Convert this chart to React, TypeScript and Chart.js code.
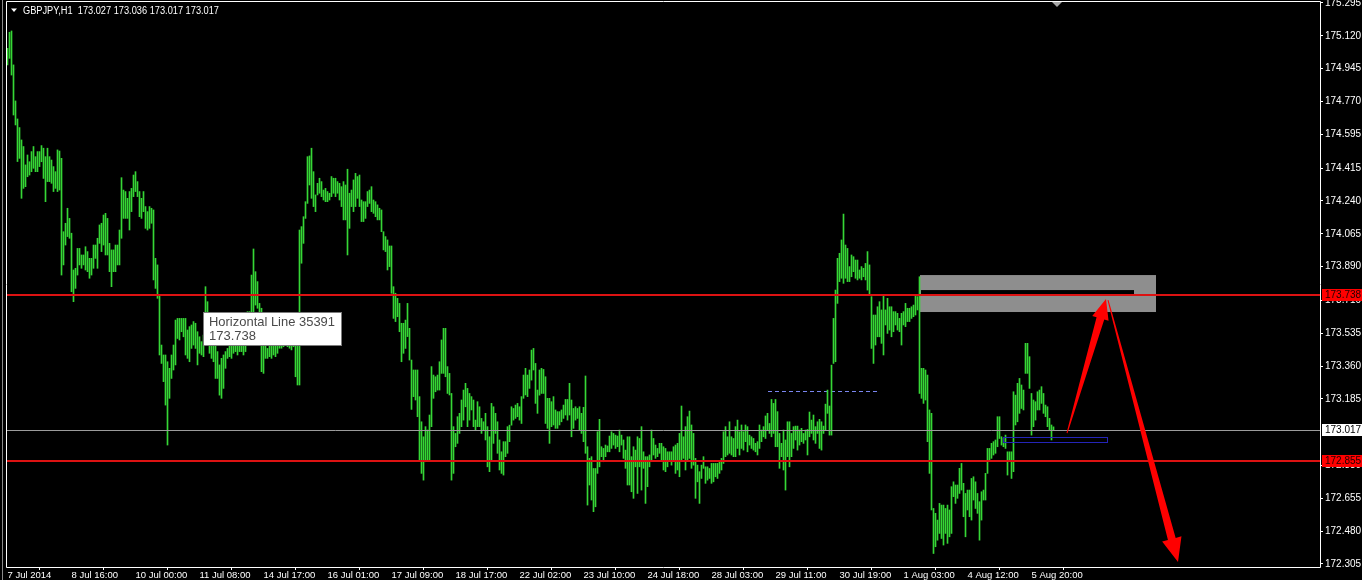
import React, { useEffect, useRef } from 'react';
import { Chart, registerables } from 'chart.js';

Chart.register(...registerables);

// ---------- text ----------
const headerText = 'GBPJPY,H1  173.027 173.036 173.017 173.017';
const timeLabels = [
  '7 Jul 2014', '8 Jul 16:00', '10 Jul 00:00', '11 Jul 08:00', '14 Jul 17:00', '16 Jul 01:00',
  '17 Jul 09:00', '18 Jul 17:00', '22 Jul 02:00', '23 Jul 10:00', '24 Jul 18:00', '28 Jul 03:00',
  '29 Jul 11:00', '30 Jul 19:00', '1 Aug 03:00', '4 Aug 12:00', '5 Aug 20:00',
];
const barsPerTimeLabel = 32;
const priceTickValues = [
  175.295, 175.12, 174.945, 174.77, 174.595, 174.415, 174.24, 174.065, 173.89, 173.71,
  173.535, 173.36, 173.185, 172.83, 172.655, 172.48, 172.305,
];

// ---------- H1 bars (high / low) ----------
const highs = [
  175.054,175.139,175.146,174.965,174.773,174.677,174.631,174.565,174.530,174.432,
  174.485,174.449,174.503,174.530,174.476,174.503,174.503,174.535,174.521,174.476,
  174.521,174.476,174.458,174.423,174.396,174.512,174.506,174.467,174.076,174.121,
  174.201,174.147,174.068,173.872,173.881,173.987,173.987,173.952,173.952,173.996,
  173.970,173.934,173.934,174.005,174.005,174.041,174.112,174.121,174.165,174.174,
  174.147,174.014,173.979,173.979,174.005,174.005,174.085,174.364,174.298,174.290,
  174.254,174.290,174.307,174.378,174.396,174.343,174.290,174.254,174.290,174.210,
  174.183,174.210,174.201,174.192,173.934,173.899,173.739,173.472,173.419,173.419,
  173.383,173.348,173.419,173.472,173.605,173.614,173.614,173.614,173.614,173.614,
  173.552,173.570,173.579,173.597,173.588,173.543,173.516,173.490,173.525,173.783,
  173.703,173.632,173.579,173.508,173.472,173.437,173.366,173.401,173.419,173.437,
  173.454,173.472,173.472,173.481,173.490,173.472,173.472,173.472,173.472,173.490,
  173.650,173.650,173.845,173.984,173.863,173.810,173.694,173.668,173.472,173.472,
  173.454,173.595,173.605,173.580,173.560,173.570,173.600,173.590,173.610,173.620,
  173.600,173.580,173.570,173.600,173.620,173.600,174.085,174.103,174.156,174.236,
  174.476,174.480,174.521,174.396,174.272,174.334,174.361,174.343,174.298,174.307,
  174.290,174.281,174.370,174.361,174.361,174.343,174.334,174.316,174.343,174.325,
  174.409,174.281,174.298,174.352,174.387,174.370,174.378,174.245,174.236,174.236,
  174.290,174.298,174.316,174.245,174.236,174.219,174.201,174.192,174.076,174.050,
  174.032,174.000,174.000,173.783,173.748,173.721,173.694,173.588,173.588,173.605,
  173.694,173.561,173.392,173.339,173.339,173.339,173.197,173.063,172.983,173.037,
  173.019,173.099,173.357,173.312,173.303,173.312,173.383,173.499,173.561,173.561,
  173.357,173.321,173.214,173.037,173.001,173.090,173.108,173.179,173.232,173.268,
  173.241,173.214,173.197,173.179,173.072,173.170,173.143,173.081,173.063,173.108,
  173.037,172.983,173.161,173.143,173.108,173.063,172.966,172.903,172.957,172.957,
  173.037,173.045,173.143,173.134,173.152,173.161,173.143,173.197,173.312,173.348,
  173.312,173.339,173.445,173.454,173.374,173.232,173.339,173.348,173.342,173.303,
  173.188,173.188,173.170,173.197,173.126,173.117,173.117,173.126,173.152,173.182,
  173.182,173.268,173.179,173.134,173.143,173.134,173.143,173.108,173.140,173.307,
  172.930,172.868,172.877,172.814,172.814,173.010,173.076,172.930,172.921,172.939,
  172.934,172.987,173.010,173.001,172.992,172.987,173.019,172.992,172.966,172.912,
  172.983,172.983,172.877,172.930,172.912,172.983,172.974,173.037,172.903,172.877,
  172.877,172.886,173.019,172.974,172.939,172.921,172.948,172.948,172.930,172.921,
  172.903,172.903,172.903,172.930,172.939,172.948,173.001,173.147,172.983,173.037,
  173.090,173.120,173.046,173.001,172.868,172.832,172.797,172.832,172.877,172.823,
  172.823,172.814,172.841,172.841,172.841,172.841,172.850,172.868,173.010,173.037,
  172.983,173.063,172.983,172.974,173.037,173.072,173.010,173.046,173.010,173.046,
  173.037,172.992,172.983,172.974,172.948,172.957,173.046,173.019,173.037,173.094,
  173.108,173.054,173.182,173.161,173.182,173.117,173.001,172.948,173.019,172.966,
  173.063,173.063,173.001,173.037,173.040,173.040,173.019,173.028,173.001,173.019,
  173.022,173.115,173.072,173.099,173.037,173.063,173.076,173.063,173.040,173.157,
  173.232,173.147,173.365,173.614,173.765,173.934,173.961,174.032,174.170,174.005,
  173.987,173.890,173.952,173.943,173.925,173.925,173.872,173.890,173.881,173.907,
  173.970,173.899,173.730,173.632,173.632,173.676,173.703,173.659,173.739,173.659,
  173.721,173.676,173.676,173.650,173.650,173.641,173.614,173.641,173.650,173.694,
  173.668,173.668,173.676,173.685,173.739,173.730,173.836,173.348,173.348,173.339,
  173.312,173.126,173.108,172.601,172.575,172.539,172.628,172.619,172.619,172.601,
  172.619,172.593,172.717,172.743,172.726,172.726,172.815,172.841,172.735,172.681,
  172.699,172.699,172.761,172.770,172.743,172.681,172.637,172.690,172.699,172.788,
  172.921,172.921,172.948,172.957,172.966,173.090,173.090,172.983,172.974,172.992,
  172.903,172.903,172.903,173.223,173.205,173.268,173.294,173.259,173.232,173.481,
  173.481,173.410,173.214,173.179,173.170,173.223,173.232,173.250,173.214,173.152,
  173.143,173.081,173.046,173.036,
];
const lows = [
  174.965,175.000,174.911,174.698,174.645,174.450,174.467,174.254,174.307,174.316,
  174.369,174.378,174.396,174.414,174.396,174.396,174.423,174.449,174.360,174.236,
  174.343,174.343,174.334,174.290,174.307,174.290,174.298,173.845,173.899,174.005,
  174.050,174.041,173.756,173.703,173.774,173.845,173.899,173.881,173.899,173.872,
  173.863,173.828,173.845,173.881,173.934,173.881,174.014,173.970,174.005,173.952,
  173.952,173.863,173.783,173.863,173.863,173.899,173.899,174.041,174.147,174.147,
  174.147,174.085,174.183,174.263,174.290,174.263,174.156,174.147,174.183,174.094,
  174.085,174.094,174.121,173.819,173.774,173.721,173.419,173.374,173.277,173.152,
  172.939,173.188,173.294,173.339,173.366,173.507,173.499,173.543,173.516,173.419,
  173.401,173.383,173.454,173.472,173.454,173.366,173.428,173.419,173.410,173.507,
  173.561,173.428,173.401,173.383,173.294,173.294,173.205,173.188,173.241,173.348,
  173.401,173.410,173.401,173.428,173.437,173.419,173.437,173.437,173.419,173.437,
  173.472,173.507,173.614,173.650,173.685,173.668,173.632,173.330,173.321,173.401,
  173.401,173.410,173.401,173.419,173.410,173.428,173.455,173.455,173.463,173.472,
  173.463,173.455,173.446,173.463,173.303,173.259,173.259,173.908,174.014,174.147,
  174.227,174.325,174.254,174.210,174.183,174.272,174.281,174.263,174.245,174.236,
  174.236,174.245,174.263,174.281,174.263,174.281,174.245,174.210,174.139,174.139,
  173.952,174.094,174.210,174.183,174.210,174.254,174.210,174.130,174.130,174.147,
  174.210,174.227,174.183,174.174,174.156,174.139,174.139,174.076,173.979,173.970,
  173.872,173.890,173.748,173.614,173.597,173.623,173.543,173.383,173.428,173.454,
  173.517,173.392,173.129,173.197,173.179,173.090,172.859,172.788,172.752,172.850,
  172.859,172.859,173.037,173.188,173.223,173.232,173.232,173.321,173.321,173.303,
  173.214,173.206,172.752,172.788,172.930,172.948,173.001,173.037,173.072,173.143,
  173.037,173.072,173.126,173.037,173.019,173.037,173.037,173.001,173.019,172.966,
  172.823,172.797,172.859,172.948,173.001,172.895,172.806,172.788,172.779,172.877,
  172.895,172.957,173.045,173.072,173.081,173.090,173.072,173.054,173.188,173.206,
  173.197,173.241,173.285,173.339,173.161,173.108,173.205,173.214,173.214,173.054,
  173.028,172.948,173.037,173.046,173.028,173.028,173.046,173.063,173.081,173.099,
  173.072,173.099,172.983,173.028,173.072,173.081,173.019,173.001,172.957,172.895,
  172.619,172.726,172.646,172.584,172.610,172.788,172.823,172.877,172.850,172.877,
  172.903,172.903,172.921,172.939,172.921,172.930,172.903,172.939,172.868,172.815,
  172.726,172.726,172.690,172.655,172.823,172.681,172.823,172.699,172.815,172.628,
  172.717,172.823,172.859,172.886,172.868,172.877,172.895,172.859,172.806,172.797,
  172.823,172.859,172.832,172.859,172.788,172.806,172.770,172.859,172.868,172.806,
  172.859,172.868,172.815,172.832,172.655,172.743,172.628,172.761,172.815,172.735,
  172.752,172.761,172.735,172.743,172.770,172.761,172.788,172.806,172.841,172.877,
  172.886,172.895,172.886,172.877,172.877,172.921,172.886,172.921,172.912,172.957,
  172.903,172.939,172.921,172.912,172.903,172.886,172.921,172.957,172.983,172.974,
  173.019,173.001,172.983,173.001,172.930,172.930,172.815,172.877,172.806,172.699,
  172.877,172.823,172.877,172.921,172.966,172.912,172.939,172.957,172.948,172.966,
  172.886,172.983,173.001,172.966,172.948,173.001,172.921,172.912,173.001,173.019,
  173.108,172.992,172.992,173.374,173.383,173.694,173.810,173.828,173.801,173.828,
  173.810,173.810,173.836,173.863,173.828,173.819,173.828,173.819,173.836,173.819,
  173.765,173.739,173.454,173.374,173.472,173.516,173.516,173.481,173.419,173.579,
  173.534,173.552,173.516,173.543,173.579,173.552,173.543,173.472,173.579,173.570,
  173.597,173.597,173.614,173.623,173.632,173.659,173.214,173.188,173.161,173.179,
  172.957,172.788,172.593,172.361,172.397,172.432,172.468,172.441,172.406,172.468,
  172.415,172.450,172.468,172.664,172.628,172.655,172.681,172.699,172.557,172.450,
  172.593,172.557,172.539,172.646,172.601,172.575,172.432,172.539,172.646,172.646,
  172.788,172.859,172.868,172.886,172.895,172.930,172.974,172.939,172.930,172.921,
  172.779,172.859,172.761,172.797,173.046,173.063,173.108,173.134,173.126,173.321,
  173.321,173.241,172.992,173.037,173.072,173.126,173.126,173.161,173.108,173.090,
  173.037,173.019,172.966,173.017,
];

// ---------- objects (data coordinates: bar index / price) ----------
const resistanceLevel = 173.738;
const supportLevel = 172.855;
const lastPrice = 173.017;
const zoneBox = { fromBar: 456.25, toBar: 574.25, top: 173.845, bottom: 173.648 };
const zoneInner = { fromBar: 456.75, toBar: 563.25, top: 173.765, bottom: 173.738 };
const smallBox = { fromBar: 497.75, toBar: 549.75, top: 172.984, bottom: 172.957 };
const dashedLevel = { fromBar: 380.25, toBar: 435.25, price: 173.227 };
const arrowUp = { fromBar: 529.75, fromPrice: 173.003, toBar: 549.25, toPrice: 173.717 };
const arrowDown = { fromBar: 550.25, fromPrice: 173.712, toBar: 585.25, toPrice: 172.315 };
const lineTip = { bar: 97.75, title: 'Horizontal Line 35391', value: '173.738' };

// ---------- scale ranges ----------
const xMin = -0.25;
const xMax = 656.25;
const yMin = 172.289;
const yMax = 175.3003;

const FONT = "'Liberation Sans', Arial, sans-serif";

function drawArrow(ctx: CanvasRenderingContext2D, x0: number, y0: number, x1: number, y1: number,
  tailW: number, shaftW: number, headW: number, headLen: number, color: string) {
  const dx = x1 - x0, dy = y1 - y0;
  const L = Math.hypot(dx, dy);
  const ux = dx / L, uy = dy / L;
  const nx = -uy, ny = ux;
  const bx = x1 - ux * headLen, by = y1 - uy * headLen;
  ctx.beginPath();
  ctx.moveTo(x0 + nx * tailW / 2, y0 + ny * tailW / 2);
  ctx.lineTo(bx + nx * shaftW / 2, by + ny * shaftW / 2);
  ctx.lineTo(bx + nx * headW / 2, by + ny * headW / 2);
  ctx.lineTo(x1, y1);
  ctx.lineTo(bx - nx * headW / 2, by - ny * headW / 2);
  ctx.lineTo(bx - nx * shaftW / 2, by - ny * shaftW / 2);
  ctx.lineTo(x0 - nx * tailW / 2, y0 - ny * tailW / 2);
  ctx.closePath();
  ctx.fillStyle = color;
  ctx.fill();
}

const mtPlugin = {
  id: 'mt4Overlay',
  beforeDraw(chart: any) {
    const ctx = chart.ctx;
    ctx.save();
    ctx.fillStyle = '#000';
    ctx.fillRect(0, 0, chart.width, chart.height);
    ctx.restore();
  },
  beforeDatasetsDraw(chart: any) {
    const { ctx, chartArea: a } = chart;
    const X = chart.scales.x, Y = chart.scales.y;
    ctx.save();
    ctx.beginPath();
    ctx.rect(a.left, a.top, a.right - a.left, a.bottom - a.top);
    ctx.clip();
    // grey zone
    const zx0 = X.getPixelForValue(zoneBox.fromBar), zx1 = X.getPixelForValue(zoneBox.toBar);
    const zy0 = Y.getPixelForValue(zoneBox.top), zy1 = Y.getPixelForValue(zoneBox.bottom);
    ctx.fillStyle = '#8e8e8e';
    ctx.fillRect(zx0, zy0, zx1 - zx0, zy1 - zy0);
    const ix0 = X.getPixelForValue(zoneInner.fromBar), ix1 = X.getPixelForValue(zoneInner.toBar);
    const iy0 = Y.getPixelForValue(zoneInner.top), iy1 = Y.getPixelForValue(zoneInner.bottom);
    ctx.fillStyle = '#000';
    ctx.fillRect(ix0, iy0, ix1 - ix0, iy1 - iy0);
    // dashed level
    const dy = Math.round(Y.getPixelForValue(dashedLevel.price)) + 0.5;
    ctx.strokeStyle = '#7a86f0';
    ctx.lineWidth = 1;
    ctx.setLineDash([4, 3]);
    ctx.beginPath();
    ctx.moveTo(X.getPixelForValue(dashedLevel.fromBar), dy);
    ctx.lineTo(X.getPixelForValue(dashedLevel.toBar), dy);
    ctx.stroke();
    ctx.setLineDash([]);
    ctx.restore();
  },
  afterDatasetsDraw(chart: any) {
    const { ctx, chartArea: a } = chart;
    const X = chart.scales.x, Y = chart.scales.y;
    ctx.save();
    ctx.beginPath();
    ctx.rect(a.left, a.top, a.right - a.left, a.bottom - a.top);
    ctx.clip();
    // current price line
    const gy = Math.round(Y.getPixelForValue(lastPrice)) + 0.5;
    ctx.strokeStyle = '#9c9c9c';
    ctx.lineWidth = 1;
    ctx.beginPath();
    ctx.moveTo(a.left, gy);
    ctx.lineTo(a.right, gy);
    ctx.stroke();
    // red levels
    ctx.strokeStyle = '#dc1212';
    ctx.lineWidth = 2;
    [resistanceLevel, supportLevel].forEach((p) => {
      const y = Math.round(Y.getPixelForValue(p));
      ctx.beginPath();
      ctx.moveTo(a.left, y);
      ctx.lineTo(a.right, y);
      ctx.stroke();
    });
    // small blue rectangle
    const bx0 = Math.round(X.getPixelForValue(smallBox.fromBar)) + 0.5;
    const bx1 = Math.round(X.getPixelForValue(smallBox.toBar)) + 0.5;
    const by0 = Math.round(Y.getPixelForValue(smallBox.top)) + 0.5;
    const by1 = Math.round(Y.getPixelForValue(smallBox.bottom)) + 0.5;
    ctx.strokeStyle = '#2424b8';
    ctx.lineWidth = 1;
    ctx.strokeRect(bx0, by0, bx1 - bx0, by1 - by0);
    // arrows
    drawArrow(ctx,
      X.getPixelForValue(arrowUp.fromBar), Y.getPixelForValue(arrowUp.fromPrice),
      X.getPixelForValue(arrowUp.toBar), Y.getPixelForValue(arrowUp.toPrice),
      1, 8, 17, 20, '#ff0000');
    drawArrow(ctx,
      X.getPixelForValue(arrowDown.fromBar), Y.getPixelForValue(arrowDown.fromPrice),
      X.getPixelForValue(arrowDown.toBar), Y.getPixelForValue(arrowDown.toPrice),
      1, 8, 20, 24, '#ff0000');
    ctx.restore();

    // tooltip of the horizontal line
    ctx.save();
    const tx = Math.round(X.getPixelForValue(lineTip.bar)) + 0.5;
    const ty = Math.round(Y.getPixelForValue(resistanceLevel)) + 17.5;
    ctx.fillStyle = '#ffffff';
    ctx.fillRect(tx, ty, 138, 33);
    ctx.strokeStyle = '#7c7c7c';
    ctx.lineWidth = 1;
    ctx.strokeRect(tx, ty, 138, 33);
    ctx.fillStyle = '#4a4a4a';
    ctx.font = `13px ${FONT}`;
    ctx.textBaseline = 'middle';
    ctx.textAlign = 'left';
    ctx.fillText(lineTip.title, tx + 5.5, ty + 9.5, 126);
    ctx.fillText(lineTip.value, tx + 5.5, ty + 24);
    ctx.restore();
  },
  afterDraw(chart: any) {
    const { ctx, chartArea: a } = chart;
    const X = chart.scales.x, Y = chart.scales.y;
    ctx.save();
    // frame
    ctx.strokeStyle = '#8a8a8a';
    ctx.lineWidth = 1;
    ctx.beginPath();
    ctx.moveTo(2.5, 0);
    ctx.lineTo(2.5, chart.height);
    ctx.stroke();
    ctx.strokeStyle = '#ffffff';
    ctx.beginPath();
    ctx.moveTo(a.left - 0.5, a.top - 0.5);
    ctx.lineTo(a.right + 0.5, a.top - 0.5);
    ctx.lineTo(a.right + 0.5, a.bottom + 0.5);
    ctx.lineTo(a.left - 0.5, a.bottom + 0.5);
    ctx.closePath();
    ctx.stroke();

    // price boxes on the axis
    const box = (p: number, bg: string, fg: string) => {
      const y = Math.round(Y.getPixelForValue(p));
      ctx.fillStyle = bg;
      ctx.fillRect(a.right + 2, y - 6, chart.width - a.right - 2, 12);
      ctx.fillStyle = fg;
      ctx.font = `10px ${FONT}`;
      ctx.textBaseline = 'middle';
      ctx.textAlign = 'left';
      ctx.fillText(p.toFixed(3), a.right + 5, y + 0.5);
    };
    box(resistanceLevel, '#ff0000', '#200000');
    box(supportLevel, '#ff0000', '#200000');
    box(lastPrice, '#ffffff', '#000000');

    // header
    ctx.fillStyle = '#ffffff';
    ctx.beginPath();
    ctx.moveTo(11, 8.5);
    ctx.lineTo(17, 8.5);
    ctx.lineTo(14, 12);
    ctx.closePath();
    ctx.fill();
    ctx.font = `10px ${FONT}`;
    ctx.textBaseline = 'middle';
    ctx.textAlign = 'left';
    ctx.fillText(headerText, 23, 11, 196);

    // chart-shift marker
    const sx = X.getPixelForValue(highs.length + 0.75);
    ctx.fillStyle = '#a6a6a6';
    ctx.beginPath();
    ctx.moveTo(sx - 5, a.top);
    ctx.lineTo(sx + 5, a.top);
    ctx.lineTo(sx, a.top + 5);
    ctx.closePath();
    ctx.fill();
    ctx.restore();
  },
};

export default function App() {
  const ref = useRef<HTMLCanvasElement | null>(null);
  useEffect(() => {
    if (!ref.current) return;
    Chart.defaults.font.family = FONT;
    const chart = new Chart(ref.current, {
      type: 'bar',
      data: {
        datasets: [
          {
            data: highs.map((h, i) => ({ x: i, y: [lows[i], h] })) as any,
            backgroundColor: '#36d636',
            borderWidth: 0,
            barThickness: 1,
            grouped: false,
          } as any,
        ],
      },
      options: {
        animation: false,
        responsive: false,
        maintainAspectRatio: false,
        devicePixelRatio: 1,
        events: [],
        layout: { padding: { left: 7, top: 2, right: 0, bottom: 0 } },
        plugins: { legend: { display: false }, tooltip: { enabled: false } },
        scales: {
          x: {
            type: 'linear',
            position: 'bottom',
            min: xMin,
            max: xMax,
            offset: false,
            border: { display: false },
            grid: { drawOnChartArea: false, drawTicks: true, tickLength: 3, color: '#ffffff' },
            ticks: {
              autoSkip: false,
              maxRotation: 0,
              minRotation: 0,
              align: 'start',
              padding: 0,
              color: '#ffffff',
              font: { size: 9.5, family: FONT },
              callback: (_v: any, i: number) => timeLabels[i],
            },
            afterBuildTicks: (s: any) => {
              s.ticks = timeLabels.map((_, k) => ({ value: k * barsPerTimeLabel }));
            },
            afterFit: (s: any) => {
              s.height = 13;
              s.paddingLeft = 0; s.paddingRight = 0; s.paddingTop = 0; s.paddingBottom = 0;
            },
          },
          y: {
            type: 'linear',
            position: 'right',
            min: yMin,
            max: yMax,
            border: { display: false },
            grid: { drawOnChartArea: false, drawTicks: true, tickLength: 3, color: '#ffffff' },
            ticks: {
              autoSkip: false,
              padding: 2,
              color: '#ffffff',
              font: { size: 10, family: FONT },
              callback: (v: any) => Number(v).toFixed(3),
            },
            afterBuildTicks: (s: any) => {
              s.ticks = priceTickValues.map((v) => ({ value: v }));
            },
            afterFit: (s: any) => {
              s.width = 42;
              s.paddingLeft = 0; s.paddingRight = 0; s.paddingTop = 0; s.paddingBottom = 0;
            },
          },
        },
      } as any,
      plugins: [mtPlugin],
    });
    return () => chart.destroy();
  }, []);
  return (
    <div style={{ position: 'fixed', left: 0, top: 0, width: 1362, height: 580, background: '#000' }}>
      <canvas ref={ref} width={1362} height={580} style={{ display: 'block', width: 1362, height: 580 }} />
    </div>
  );
}
